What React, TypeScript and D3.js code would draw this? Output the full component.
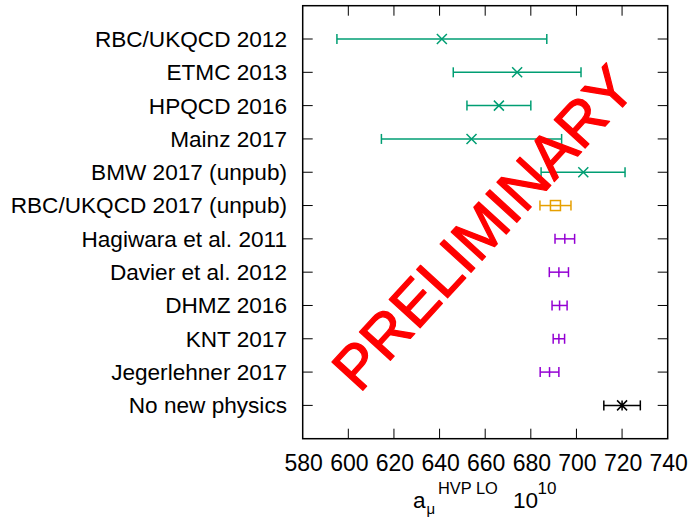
import * as d3 from 'd3';

const labels = [
  'RBC/UKQCD 2012',
  'ETMC 2013',
  'HPQCD 2016',
  'Mainz 2017',
  'BMW 2017 (unpub)',
  'RBC/UKQCD 2017 (unpub)',
  'Hagiwara et al. 2011',
  'Davier et al. 2012',
  'DHMZ 2016',
  'KNT 2017',
  'Jegerlehner 2017',
  'No new physics',
];
const values = [641, 674, 666, 654, 703, 690.8, 694.9, 692.3, 692.6, 692.3, 688.2, 720];
const lows = [595, 646, 652, 614.5, 684.5, 684, 690.6, 688.1, 689.3, 689.8, 684.1, 712];
const highs = [687, 702, 680, 693.5, 721.3, 697.6, 699.2, 696.5, 695.9, 694.8, 692.3, 728];
// lattice = green x, rbc17 = orange square, pheno = purple +, sm = black star
const kinds = ['lattice', 'lattice', 'lattice', 'lattice', 'lattice', 'rbc17', 'pheno', 'pheno', 'pheno', 'pheno', 'pheno', 'sm'];
const xTicks = [580, 600, 620, 640, 660, 680, 700, 720, 740];

const colors: Record<string, string> = {
  lattice: '#009e73',
  rbc17: '#e69f00',
  pheno: '#9400d3',
  sm: '#000000',
};

const W = 692;
const H = 519;
const left = 302.7;
const right = 667.7;
const top = 5.7;
const bottom = 438.7;
const font = "'Liberation Sans', Arial, Helvetica, sans-serif";

function Marker({ kind, cx, cy, color }: { kind: string; cx: number; cy: number; color: string }) {
  const s = 5;
  if (kind === 'lattice') {
    return (
      <path d={`M${cx - s},${cy - s}L${cx + s},${cy + s}M${cx - s},${cy + s}L${cx + s},${cy - s}`} stroke={color} strokeWidth={1.5} />
    );
  }
  if (kind === 'rbc17') {
    return <rect x={cx - s} y={cy - s} width={2 * s} height={2 * s} fill="none" stroke={color} strokeWidth={1.5} />;
  }
  if (kind === 'pheno') {
    return <path d={`M${cx},${cy - s}L${cx},${cy + s}`} stroke={color} strokeWidth={1.5} />;
  }
  return (
    <path
      d={`M${cx - s},${cy - s}L${cx + s},${cy + s}M${cx - s},${cy + s}L${cx + s},${cy - s}M${cx},${cy - s}L${cx},${cy + s}`}
      stroke={color}
      strokeWidth={1.5}
    />
  );
}

export default function App() {
  const x = d3.scaleLinear().domain([580, 740]).range([left, right]);
  const y = d3.scaleLinear().domain([0, 13]).range([top, bottom]);
  const cap = 5;
  const tickLen = 10;

  return (
    <svg width={W} height={H} style={{ position: 'absolute', left: 0, top: 0, background: '#fff' }} fontFamily={font}>
      {/* x ticks, inside, bottom and top */}
      {xTicks.slice(1, -1).map(t => (
        <g key={t}>
          <line x1={x(t)} x2={x(t)} y1={bottom} y2={bottom - tickLen} stroke="#000" strokeWidth={1} />
          <line x1={x(t)} x2={x(t)} y1={top} y2={top + tickLen} stroke="#000" strokeWidth={1} />
        </g>
      ))}
      {xTicks.map(t => (
        <text key={t} x={x(t) + 1} y={471} fontSize={23} textAnchor="middle" fill="#000">
          {t}
        </text>
      ))}

      {/* y ticks and category labels */}
      {labels.map((l, i) => (
        <g key={l}>
          <line x1={left} x2={left + tickLen} y1={y(i + 1)} y2={y(i + 1)} stroke="#000" strokeWidth={1} />
          <line x1={right} x2={right - tickLen} y1={y(i + 1)} y2={y(i + 1)} stroke="#000" strokeWidth={1} />
          <text x={287} y={y(i + 1) + 7.9} fontSize={22.6} textAnchor="end" fill="#000">
            {l}
          </text>
        </g>
      ))}

      {/* error bars and markers */}
      {values.map((v, i) => {
        const cy = y(i + 1);
        const c = colors[kinds[i]];
        return (
          <g key={i}>
            <line x1={x(lows[i])} x2={x(highs[i])} y1={cy} y2={cy} stroke={c} strokeWidth={1.5} />
            <line x1={x(lows[i])} x2={x(lows[i])} y1={cy - cap} y2={cy + cap} stroke={c} strokeWidth={1.5} />
            <line x1={x(highs[i])} x2={x(highs[i])} y1={cy - cap} y2={cy + cap} stroke={c} strokeWidth={1.5} />
            <Marker kind={kinds[i]} cx={x(v)} cy={cy} color={c} />
          </g>
        );
      })}

      {/* frame */}
      <rect x={left} y={top} width={right - left} height={bottom - top} fill="none" stroke="#000" strokeWidth={1.5} />

      {/* watermark */}
      <text
        transform="translate(483,227.5) rotate(-47.5)"
        x={0}
        y={21.5}
        fontSize={61}
        textAnchor="middle"
        fill="#ff0000"
        stroke="#ff0000"
        strokeWidth={1.2}
        strokeLinejoin="round"
      >
        PRELIMINARY
      </text>

      {/* axis title */}
      <text x={413} y={508} fontSize={22.6} fill="#000">a</text>
      <text x={426.5} y={514} fontSize={15} fill="#000">μ</text>
      <text x={438} y={493.5} fontSize={16.4} fill="#000">HVP LO</text>
      <text x={513} y={508} fontSize={22.6} fill="#000">10</text>
      <text x={537.5} y={494} fontSize={17} fill="#000">10</text>
    </svg>
  );
}
